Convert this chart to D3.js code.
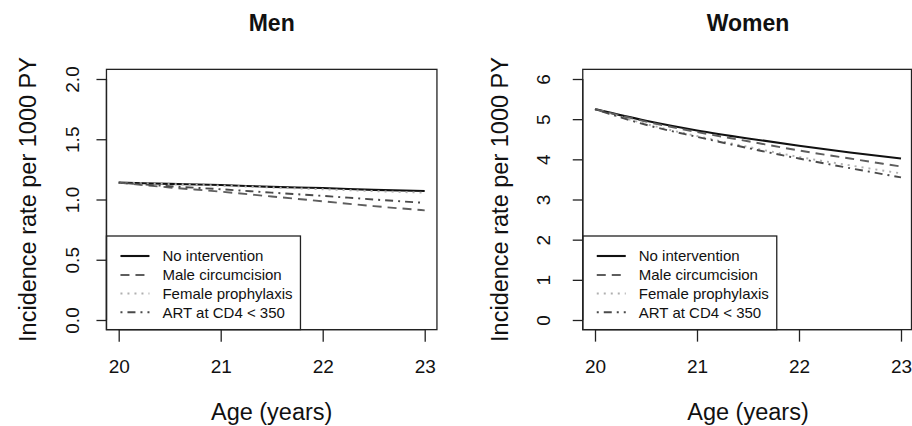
<!DOCTYPE html>
<html><head><meta charset="utf-8">
<script src="https://cdn.jsdelivr.net/npm/d3@7/dist/d3.min.js"></script>
<style>body{margin:0;background:#fff}svg{display:block;font-family:"Liberation Sans",Arial,sans-serif}</style>
</head><body><svg id="c" width="912" height="426"></svg>
<script>
const ages = [20, 20.5, 21, 21.5, 22, 22.5, 23];
const seriesNames = ["No intervention", "Male circumcision", "Female prophylaxis", "ART at CD4 < 350"];
const menNoIntervention   = [1.14, 1.13, 1.12, 1.105, 1.095, 1.08, 1.07];
const menMaleCirc         = [1.14, 1.10, 1.065, 1.025, 0.985, 0.945, 0.91];
const menFemaleProph      = [1.14, 1.128, 1.115, 1.10, 1.085, 1.07, 1.056];
const menART              = [1.14, 1.11, 1.085, 1.057, 1.03, 1.00, 0.972];
const womenNoIntervention = [5.25, 4.96, 4.72, 4.52, 4.34, 4.17, 4.02];
const womenMaleCirc       = [5.25, 4.94, 4.68, 4.45, 4.22, 4.02, 3.82];
const womenFemaleProph    = [5.25, 4.88, 4.58, 4.31, 4.06, 3.85, 3.65];
const womenART            = [5.25, 4.86, 4.56, 4.28, 4.02, 3.78, 3.55];
const xTicks = [20, 21, 22, 23];
const menYTicks = [0, 0.5, 1, 1.5, 2];
const womenYTicks = [0, 1, 2, 3, 4, 5, 6];

const styles = [
  {stroke:"#111", width:2.1, dash:null},
  {stroke:"#5e5e5e", width:1.9, dash:"9,6"},
  {stroke:"#b0b0b0", width:1.9, dash:"2,5"},
  {stroke:"#4a4a4a", width:1.9, dash:"2,5,8,5"}
];

const svg = d3.select("#c");

function panel(opt){
  const x = d3.scaleLinear().domain([20,23]).range(opt.xr);
  const y = d3.scaleLinear().domain([0,opt.ymax]).range([320,79]);
  const ext = 0.04*(23-20), yext = 0.04*opt.ymax;
  const bx0 = x(20-ext), bx1 = Math.min(x(23+ext), 911.5), by0 = y(opt.ymax+yext), by1 = y(-yext);
  const g = svg.append("g");
  const line = d3.line().x((d,i)=>x(ages[i])).y(d=>y(d)).curve(d3.curveMonotoneX);
  opt.data.forEach((s,k)=>{
    const st = styles[k];
    g.append("path").attr("d", line(s)).attr("fill","none")
      .attr("stroke", st.stroke).attr("stroke-width", st.width)
      .attr("stroke-dasharray", st.dash);
  });
  const lx0 = bx0, lx1 = bx0 + 194, ly0 = 236, ly1 = by1;
  g.append("rect").attr("x",lx0).attr("y",ly0).attr("width",lx1-lx0).attr("height",ly1-ly0)
    .attr("fill","#fff").attr("stroke","#222").attr("stroke-width",1.3);
  const ly = [256, 275, 293.5, 312.3];
  seriesNames.forEach((n,k)=>{
    const st = styles[k];
    g.append("line").attr("x1",lx0+14).attr("x2",lx0+43).attr("y1",ly[k]).attr("y2",ly[k])
      .attr("stroke",st.stroke).attr("stroke-width",st.width).attr("stroke-dasharray",st.dash);
    g.append("text").attr("x",lx0+56).attr("y",ly[k]).attr("dy","0.36em")
      .attr("font-size",15).attr("fill","#111").text(n);
  });
  g.append("rect").attr("x",bx0).attr("y",by0).attr("width",bx1-bx0).attr("height",by1-by0)
    .attr("fill","none").attr("stroke","#222").attr("stroke-width",1.3);
  const xa = g.append("g").attr("transform",`translate(0,${by1})`)
    .call(d3.axisBottom(x).tickValues(xTicks).tickSize(12).tickFormat(d3.format("d")));
  xa.select(".domain").attr("d",`M${x(20)},0H${x(23)}`).attr("stroke","#222").attr("stroke-width",1.3);
  xa.selectAll(".tick line").attr("stroke","#222").attr("stroke-width",1.3);
  xa.selectAll(".tick text").attr("font-size",19).attr("fill","#111").attr("y",37).attr("dy","0.36em")
    .attr("font-family","Liberation Sans, Arial, sans-serif");
  const ya = g.append("g").attr("transform",`translate(${bx0},0)`)
    .call(d3.axisLeft(y).tickValues(opt.yTicks).tickSize(10).tickFormat(opt.fmt));
  ya.select(".domain").attr("d",`M0,${y(0)}V${y(opt.ymax)}`).attr("stroke","#222").attr("stroke-width",1.3);
  ya.selectAll(".tick line").attr("stroke","#222").attr("stroke-width",1.3);
  ya.selectAll(".tick text").attr("font-size",19).attr("fill","#111")
    .attr("x",null).attr("dy",null).attr("text-anchor","middle")
    .attr("transform",`translate(${opt.ytx-bx0},0) rotate(-90)`).attr("y","0.36em")
    .attr("font-family","Liberation Sans, Arial, sans-serif");
  g.append("text").attr("x",(bx0+x(23+ext))/2).attr("y",23).attr("dy","0.36em").attr("text-anchor","middle")
    .attr("font-size",23).attr("font-weight","bold").attr("fill","#111").text(opt.title);
  g.append("text").attr("x",(x(20-ext)+x(23+ext))/2).attr("y",412).attr("dy","0.36em").attr("text-anchor","middle")
    .attr("font-size",23.5).attr("fill","#111").text("Age (years)");
  g.append("text").attr("transform",`translate(${opt.ttx},${(by0+by1)/2}) rotate(-90)`)
    .attr("dy","0.36em").attr("text-anchor","middle")
    .attr("font-size",23.5).attr("fill","#111").text("Incidence rate per 1000 PY");
}

panel({xr:[118.7,424.7], ymax:2, yTicks:menYTicks, fmt:d3.format(".1f"), ytx:72, ttx:28, title:"Men",
  data:[menNoIntervention, menMaleCirc, menFemaleProph, menART]});
panel({xr:[595,901], ymax:6, yTicks:womenYTicks, fmt:d3.format("d"), ytx:543, ttx:500, title:"Women",
  data:[womenNoIntervention, womenMaleCirc, womenFemaleProph, womenART]});
</script></body></html>
